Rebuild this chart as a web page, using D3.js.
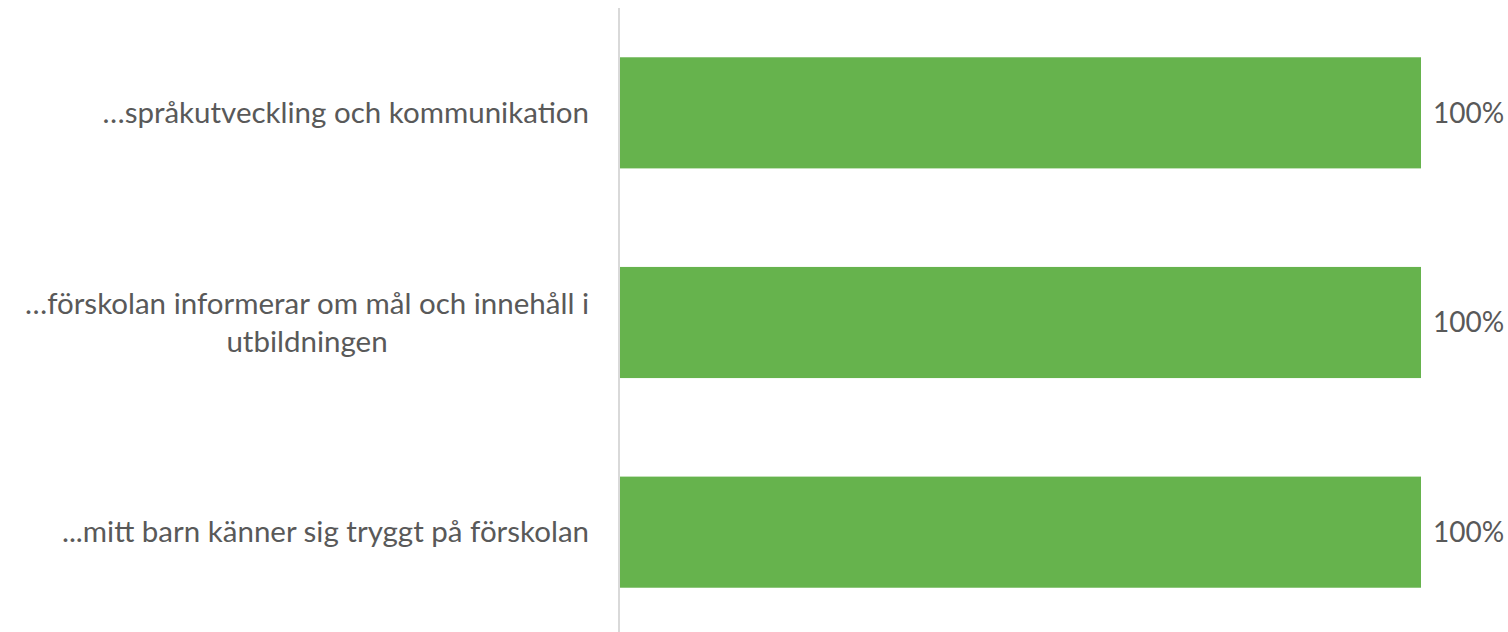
<!DOCTYPE html>
<html><head><meta charset="utf-8">
<script src="https://cdn.jsdelivr.net/npm/d3@7"></script>
<style>html,body{margin:0;padding:0;background:#fff;}svg{display:block;}</style>
</head><body>
<script>
const categories = [
  ["…språkutveckling och kommunikation"],
  ["…förskolan informerar om mål och innehåll i", "utbildningen"],
  ["...mitt barn känner sig tryggt på förskolan"]
];
const values = [1.0, 1.0, 1.0];
const valueLabels = ["100%", "100%", "100%"];

const W = 1508, H = 632;
const svg = d3.select("body").append("svg").attr("width", W).attr("height", H);
const font = "Lato, 'Open Sans', sans-serif";
const textColor = "#595959";

const y = d3.scaleBand().domain(d3.range(categories.length)).range([8, 637]).paddingInner(0.47).paddingOuter(0.235);
const x = d3.scaleLinear().domain([0, 1]).range([620, 1421]);

svg.selectAll("rect.bar").data(values).join("rect").attr("class", "bar")
  .attr("x", x(0)).attr("y", (d, i) => y(i))
  .attr("width", d => x(d) - x(0)).attr("height", y.bandwidth())
  .attr("fill", "#66b34d");

svg.append("line").attr("x1", 619).attr("x2", 619).attr("y1", 8).attr("y2", H)
  .attr("stroke", "#d9d9d9").attr("stroke-width", 2);

svg.selectAll("text.val").data(values).join("text").attr("class", "val")
  .attr("x", d => x(d) + 12).attr("y", (d, i) => y(i) + y.bandwidth() / 2)
  .attr("dy", "0.35em").attr("font-family", font).attr("font-size", 28).attr("fill", textColor)
  .text((d, i) => valueLabels[i]);

const lh = 38;
categories.forEach((lines, i) => {
  const cy = y(i) + y.bandwidth() / 2;
  const g = svg.append("g");
  const texts = lines.map((ln, j) => g.append("text")
    .attr("y", cy + (j - (lines.length - 1) / 2) * lh).attr("dy", "0.35em")
    .attr("font-family", font).attr("font-size", 29.5).attr("fill", textColor).text(ln));
  const widths = texts.map(t => t.node().getComputedTextLength());
  const maxW = d3.max(widths);
  const right = 589;
  texts.forEach((t, j) => {
    if (lines.length === 1) t.attr("x", right).attr("text-anchor", "end");
    else t.attr("x", right - maxW / 2).attr("text-anchor", "middle");
  });
});
</script>
</body></html>
